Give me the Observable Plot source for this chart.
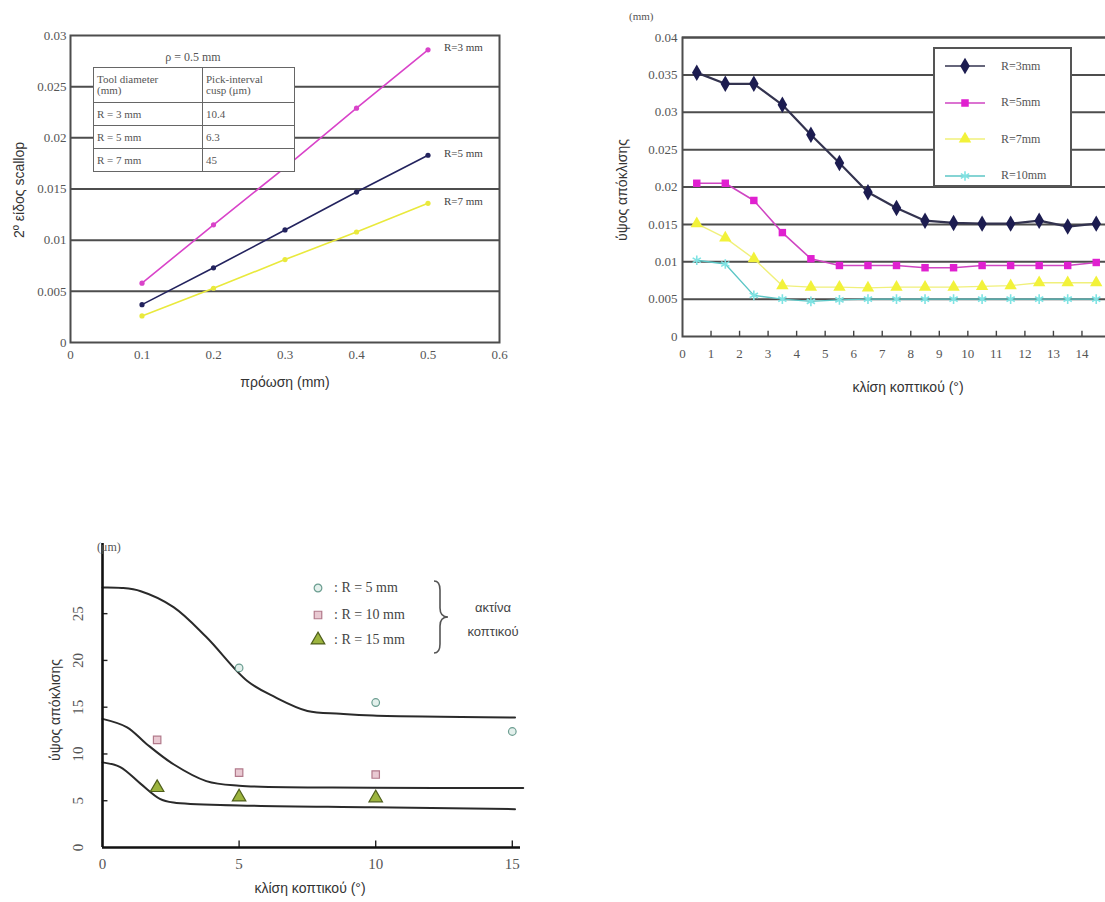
<!DOCTYPE html>
<html><head><meta charset="utf-8">
<script src="https://cdn.jsdelivr.net/npm/d3@7"></script>
<script src="https://cdn.jsdelivr.net/npm/@observablehq/plot@0.6"></script>
<style>
html,body{margin:0;padding:0;background:#fff;}
body{width:1105px;height:902px;overflow:hidden;position:relative;}
svg{max-width:none !important;}
.abs{position:absolute;}
.serif{font-family:"Liberation Serif","DejaVu Serif",serif;}
.sans{font-family:"Liberation Sans",Arial,sans-serif;}
.rot{transform:translate(-50%,-50%) rotate(-90deg);white-space:nowrap;}
.ctr{transform:translate(-50%,-50%);white-space:nowrap;}
table.t1{border-collapse:collapse;background:#fff;font-family:"Liberation Serif",serif;font-size:11px;color:#555;}
table.t1 td{border:1.5px solid #666;padding:1px 3px;line-height:11px;vertical-align:middle;}
.leg2{background:#fff;border:2px solid #555;box-sizing:border-box;}
.leg2 .row{position:absolute;left:8px;display:flex;align-items:center;white-space:nowrap;font-family:"Liberation Serif",serif;font-size:12px;color:#555;}
.leg3 .row{position:absolute;display:flex;align-items:center;white-space:nowrap;font-family:"Liberation Serif",serif;font-size:14px;color:#444;}
</style></head><body>

<!-- chart 1 -->
<div id="c1" class="abs" style="left:0;top:0"></div>
<div class="abs sans rot" style="left:19px;top:190px;font-size:14px;color:#333">2º είδος scallop</div>
<div class="abs sans ctr" style="left:285px;top:382px;font-size:14px;color:#333">πρόωση (mm)</div>
<div class="abs serif" style="left:93px;top:50px;width:200px;text-align:center;font-size:12px;color:#555">ρ = 0.5 mm</div>
<div class="abs" style="left:93px;top:67px;">
<table class="t1" id="tbl1"></table>
</div>

<!-- chart 2 -->
<div id="c2" class="abs" style="left:600px;top:0;width:520px"></div>
<div class="abs serif" style="left:629px;top:10px;font-size:11px;color:#555">(mm)</div>
<div class="abs sans rot" style="left:622px;top:190px;font-size:14px;color:#333">ύψος απόκλισης</div>
<div class="abs sans ctr" style="left:908px;top:387px;font-size:14px;color:#333">κλίση κοπτικού (°)</div>
<div id="leg2" class="abs leg2" style="left:933px;top:47px;width:139px;height:140px"></div>

<!-- chart 3 -->
<div id="c3" class="abs" style="left:0;top:520px"></div>
<div class="abs serif" style="left:97px;top:540px;font-size:12px;color:#555">(μm)</div>
<div class="abs sans rot" style="left:55px;top:710px;font-size:14px;color:#333">ύψος απόκλισης</div>
<div class="abs sans ctr" style="left:310px;top:888px;font-size:14px;color:#333">κλίση κοπτικού (°)</div>
<div id="leg3" class="abs leg3" style="left:0;top:0;width:1px;height:1px"></div>
<svg class="abs" style="left:430px;top:578px" width="30" height="80"><path d="M4,3 Q10,3 10,12 L10,30 Q10,39 18,39 Q10,39 10,48 L10,66 Q10,75 4,75" fill="none" stroke="#555" stroke-width="1.6"/></svg>
<div class="abs sans ctr" style="left:493px;top:607px;font-size:13px;color:#444">ακτίνα</div>
<div class="abs sans ctr" style="left:493px;top:631px;font-size:13px;color:#444">κοπτικού</div>

<script>
// ---------- Chart 1 data ----------
const feed = [0.1, 0.2, 0.3, 0.4, 0.5];
const scallopR3 = [0.0058, 0.0115, 0.0171, 0.0229, 0.0286];
const scallopR5 = [0.0037, 0.0073, 0.0110, 0.0147, 0.0183];
const scallopR7 = [0.0026, 0.0053, 0.0081, 0.0108, 0.0136];
const names1 = ["R=3 mm", "R=5 mm", "R=7 mm"];
const xTicks1 = [0, 0.1, 0.2, 0.3, 0.4, 0.5, 0.6];
const xTickLabels1 = ["0", "0.1", "0.2", "0.3", "0.4", "0.5", "0.6"];
const yTicks1 = [0, 0.005, 0.01, 0.015, 0.02, 0.025, 0.03];
const yTickLabels1 = ["0", "0.005", "0.01", "0.015", "0.02", "0.025", "0.03"];
const tableHead = ["Tool diameter", "(mm)", "Pick-interval", "cusp (μm)"];
const tableTool = ["R = 3 mm", "R = 5 mm", "R = 7 mm"];
const tableCusp = ["10.4", "6.3", "45"];

// ---------- Chart 2 data ----------
const tilt2 = [0.5,1.5,2.5,3.5,4.5,5.5,6.5,7.5,8.5,9.5,10.5,11.5,12.5,13.5,14.5];
const devR3 = [0.0353,0.0338,0.0338,0.0310,0.0270,0.0232,0.0193,0.0172,0.0155,0.0152,0.0151,0.0151,0.0155,0.0147,0.0151];
const devR5 = [0.0205,0.0205,0.0182,0.0139,0.0104,0.0095,0.0095,0.0095,0.0092,0.0092,0.0095,0.0095,0.0095,0.0095,0.0099];
const devR7 = [0.0151,0.0132,0.0104,0.0068,0.0066,0.0066,0.0065,0.0066,0.0066,0.0066,0.0067,0.0068,0.0072,0.0072,0.0072];
const devR10 = [0.0102,0.0097,0.0055,0.0050,0.0047,0.0049,0.0050,0.0050,0.0050,0.0050,0.0050,0.0050,0.0050,0.0050,0.0050];
const names2 = ["R=3mm", "R=5mm", "R=7mm", "R=10mm"];
const xTicks2 = [0,1,2,3,4,5,6,7,8,9,10,11,12,13,14,15];
const yTicks2 = [0, 0.005, 0.01, 0.015, 0.02, 0.025, 0.03, 0.035, 0.04];
const yTickLabels2 = ["0", "0.005", "0.01", "0.015", "0.02", "0.025", "0.03", "0.035", "0.04"];

// ---------- Chart 3 data ----------
const curveR5x = [0, 0.7, 1.4, 2.6, 3.8, 5.3, 6.3, 7.5, 8.7, 9.9, 15.1];
const curveR5y = [27.8, 27.75, 27.4, 25.7, 22.5, 17.8, 16.1, 14.6, 14.3, 14.1, 13.9];
const curveR10x = [0, 0.9, 1.6, 2.6, 3.8, 5.0, 9.9, 15.4];
const curveR10y = [13.75, 12.85, 11.1, 8.9, 7.1, 6.6, 6.4, 6.35];
const curveR15x = [0, 0.65, 1.4, 2.1, 2.6, 5.0, 9.9, 15.1];
const curveR15y = [9.1, 8.6, 6.8, 5.2, 4.8, 4.5, 4.3, 4.1];
const measR5x = [5, 10, 15];
const measR5y = [19.2, 15.5, 12.4];
const measR10x = [2, 5, 10];
const measR10y = [11.5, 8.0, 7.8];
const measR15x = [2, 5, 10];
const measR15y = [6.4, 5.4, 5.3];
const names3 = [": R = 5 mm", ": R = 10 mm", ": R = 15 mm"];
const xTicks3 = [0, 5, 10, 15];
const yTicks3 = [0, 5, 10, 15, 20, 25];

// ---------- styles ----------
const colors1 = ["#d943c9", "#23235e", "#e9e93c"];
const tickFont = {fontFamily: "'Liberation Serif','DejaVu Serif',serif", fontSize: "13px", color: "#555", background: "transparent", overflow: "visible", maxWidth: "none"};
const gridColor = "#4d4d4d";

// ---------- Chart 1 ----------
const rows1 = [];
[scallopR3, scallopR5, scallopR7].forEach((vals, i) => vals.forEach((v, j) => rows1.push({x: feed[j], y: v, s: names1[i]})));
const ends1 = names1.map((n, i) => ({x: feed[feed.length-1], y: [scallopR3, scallopR5, scallopR7][i][feed.length-1], s: n}));

const marks1 = [
  Plot.ruleY(yTicks1.slice(1, -1), {stroke: gridColor, strokeWidth: 2}),
  Plot.frame({stroke: gridColor, strokeWidth: 2}),
];
names1.forEach((n, i) => {
  const d = rows1.filter(r => r.s === n);
  marks1.push(Plot.line(d, {x: "x", y: "y", stroke: colors1[i], strokeWidth: 1.6}));
  marks1.push(Plot.dot(d, {x: "x", y: "y", fill: colors1[i], r: 2.6}));
});
marks1.push(Plot.text(ends1, {x: "x", y: "y", text: "s", dx: 16, dy: -2, textAnchor: "start", fill: "#444", fontSize: 11}));
marks1.push(Plot.axisX({ticks: xTicks1, tickFormat: (d, i) => xTickLabels1[i], tickSize: 0, tickPadding: 7, label: null}));
marks1.push(Plot.axisY({ticks: yTicks1, tickFormat: (d, i) => yTickLabels1[i], tickSize: 0, tickPadding: 4, label: null}));

const p1 = Plot.plot({
  width: 600, height: 392, marginLeft: 70, marginRight: 101, marginTop: 35, marginBottom: 50,
  x: {domain: [0, 0.6]}, y: {domain: [0, 0.03]},
  style: tickFont, marks: marks1
});
document.getElementById("c1").appendChild(p1);

// table
const tbl = document.getElementById("tbl1");
let html = `<tr style="height:35px"><td style="width:102px">${tableHead[0]}<br>${tableHead[1]}</td><td style="width:85px">${tableHead[2]}<br>${tableHead[3]}</td></tr>`;
tableTool.forEach((t, i) => { html += `<tr style="height:23px"><td>${t}</td><td>${tableCusp[i]}</td></tr>`; });
tbl.innerHTML = html;

// ---------- Chart 2 ----------
const series2 = [devR3, devR5, devR7, devR10];
const colors2 = ["#1c1c50", "#e020d0", "#f2f23a", "#7fe3e3"];
const lineColors2 = ["#33334f", "#cf45c2", "#f0f07a", "#5cc6c6"];
const lineW2 = [2.2, 1.6, 1.4, 1.4];
const symbols2 = ["diamond", "square", "triangle", "asterisk"];
const sizes2 = [5, 4.2, 4.6, 4.5];
const marks2 = [
  Plot.ruleY(yTicks2.slice(1), {stroke: gridColor, strokeWidth: 2}),
  Plot.frame({stroke: gridColor, strokeWidth: 2}),
  Plot.ruleX(xTicks2.slice(1), {y1: 0, y2: 0.0007, stroke: "#444", strokeWidth: 1.4}),
];
series2.forEach((vals, i) => {
  const d = vals.map((v, j) => ({x: tilt2[j], y: v}));
  marks2.push(Plot.line(d, {x: "x", y: "y", stroke: lineColors2[i], strokeWidth: lineW2[i]}));
  if (symbols2[i] === "asterisk")
    marks2.push(Plot.dot(d, {x: "x", y: "y", symbol: symbols2[i], stroke: colors2[i], strokeWidth: 1.6, r: sizes2[i]}));
  else
    marks2.push(Plot.dot(d, {x: "x", y: "y", symbol: symbols2[i], fill: colors2[i], r: sizes2[i]}));
});
marks2.push(Plot.axisX({ticks: xTicks2.slice(0, -1), tickSize: 0, tickPadding: 12, label: null}));
marks2.push(Plot.axisY({ticks: yTicks2, tickFormat: (d, i) => yTickLabels2[i], tickSize: 0, tickPadding: 5, label: null}));

const p2 = Plot.plot({
  width: 520, height: 400, marginLeft: 82, marginRight: 10, marginTop: 37, marginBottom: 64,
  x: {domain: [0, 15]}, y: {domain: [0, 0.04]},
  style: tickFont, marks: marks2
});
document.getElementById("c2").appendChild(p2);

// legend 2
const leg2 = document.getElementById("leg2");
names2.forEach((n, i) => {
  const row = document.createElement("div");
  row.className = "row";
  row.style.top = (7 + i * 36.5) + "px";
  const sym = d3.symbol().type({diamond: d3.symbolDiamond, square: d3.symbolSquare, triangle: d3.symbolTriangle, asterisk: d3.symbolAsterisk}[symbols2[i]]).size(sizes2[i] * sizes2[i] * 3.2)();
  const isStroke = symbols2[i] === "asterisk";
  row.innerHTML = `<svg width="44" height="20" style="margin-right:14px"><line x1="2" y1="10" x2="42" y2="10" stroke="${lineColors2[i]}" stroke-width="1.3"/><path transform="translate(22,10)" d="${sym}" ${isStroke ? `fill="none" stroke="${colors2[i]}" stroke-width="1.6"` : `fill="${colors2[i]}"`}/></svg><span>${n}</span>`;
  leg2.appendChild(row);
});

// ---------- Chart 3 ----------
const curves3 = [[curveR5x, curveR5y], [curveR10x, curveR10y], [curveR15x, curveR15y]];
const meas3 = [[measR5x, measR5y], [measR10x, measR10y], [measR15x, measR15y]];
const mFill3 = ["#e3f0ec", "#e9c9d2", "#9cb43e"];
const mStroke3 = ["#6b9d90", "#b27a8b", "#4f5f1c"];
const mSym3 = ["circle", "square", "triangle"];
const mR3 = [3.8, 4.2, 5];
const marks3 = [];
curves3.forEach(([xs, ys]) => {
  marks3.push(Plot.line(xs.map((x, j) => ({x, y: ys[j]})), {x: "x", y: "y", curve: "catmull-rom", stroke: "#2a2a2a", strokeWidth: 2}));
});
meas3.forEach(([xs, ys], i) => {
  marks3.push(Plot.dot(xs.map((x, j) => ({x, y: ys[j]})), {x: "x", y: "y", symbol: mSym3[i], fill: mFill3[i], stroke: mStroke3[i], strokeWidth: 1.2, r: mR3[i]}));
});
marks3.push(Plot.ruleX(xTicks3.slice(1), {y1: 0, y2: 0.7, stroke: "#222", strokeWidth: 1.4}));
marks3.push(Plot.ruleY(yTicks3.slice(1), {x1: 0, x2: 0.2, stroke: "#222", strokeWidth: 1.4}));
marks3.push(Plot.ruleX([0], {stroke: "#111", strokeWidth: 2.6}));
marks3.push(Plot.ruleY([0], {stroke: "#111", strokeWidth: 2.6}));
marks3.push(Plot.axisX({ticks: xTicks3, tickSize: 0, tickPadding: 11, label: null, fontSize: 15}));
marks3.push(Plot.axisY({ticks: yTicks3, tickSize: 0, tickPadding: 20, tickRotate: -90, label: null, fontSize: 15}));

const p3 = Plot.plot({
  width: 560, height: 382, marginLeft: 102, marginRight: 40, marginTop: 23, marginBottom: 55,
  x: {domain: [0, 15.3]}, y: {domain: [0, 32.5]},
  style: {...tickFont, fontSize: "15px"}, marks: marks3
});
document.getElementById("c3").appendChild(p3);

// legend 3
const leg3 = document.getElementById("leg3");
const legY3 = [588, 615, 640];
names3.forEach((n, i) => {
  const row = document.createElement("div");
  row.className = "row";
  row.style.left = "308px";
  row.style.top = (legY3[i] - 10) + "px";
  const sym = d3.symbol().type([d3.symbolCircle, d3.symbolSquare, d3.symbolTriangle][i]).size(mR3[i] * mR3[i] * 3.2)();
  row.innerHTML = `<svg width="20" height="20" style="margin-right:6px"><path transform="translate(10,10)" d="${sym}" fill="${mFill3[i]}" stroke="${mStroke3[i]}" stroke-width="1.2"/></svg><span>${n}</span>`;
  leg3.appendChild(row);
});
</script>
</body></html>
